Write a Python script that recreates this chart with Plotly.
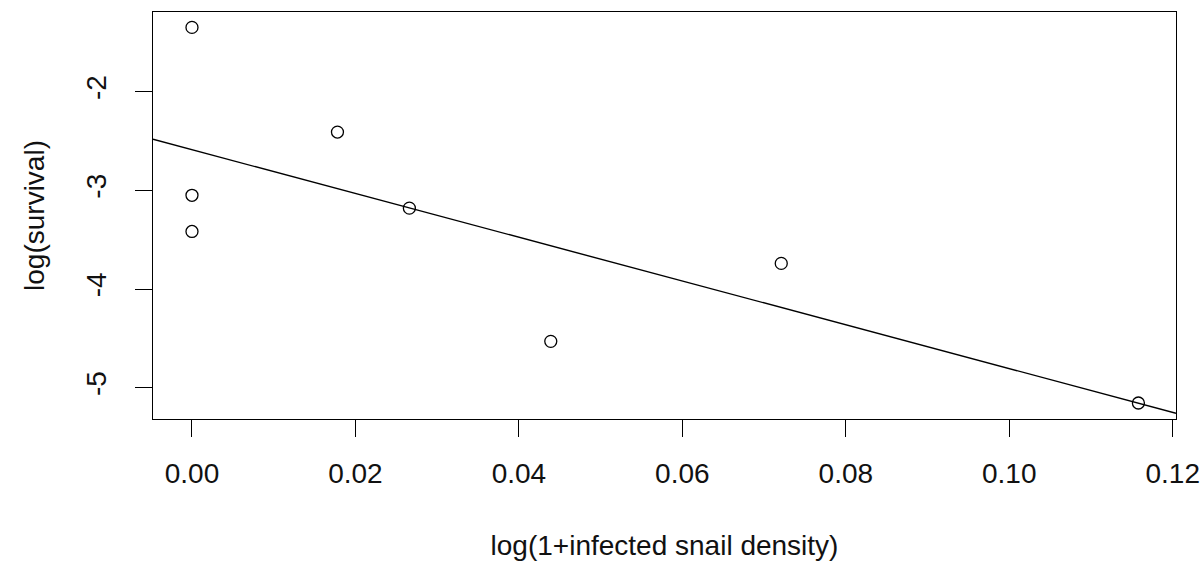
import numpy as np
import plotly.graph_objects as go

# data
infected_density = [0.0, 0.0, 0.0, 0.0178, 0.0266, 0.0439, 0.0721, 0.1158]
log_survival = [-1.348, -3.05, -3.416, -2.409, -3.18, -4.53, -3.74, -5.155]
x_ticks = [0.00, 0.02, 0.04, 0.06, 0.08, 0.10, 0.12]
x_tick_labels = ["0.00", "0.02", "0.04", "0.06", "0.08", "0.10", "0.12"]
y_ticks = [-5, -4, -3, -2]
y_tick_labels = ["-5", "-4", "-3", "-2"]

x_range = [-0.00477, 0.1204]
y_range = [-5.317, -1.192]

slope, intercept = np.polyfit(infected_density, log_survival, 1)
line_x = np.array(x_range)
line_y = intercept + slope * line_x

FONT = "Liberation Sans, Arial, sans-serif"

fig = go.Figure()
fig.add_trace(go.Scatter(
    x=line_x, y=line_y, mode="lines",
    line=dict(color="black", width=1.4), showlegend=False, hoverinfo="skip"))
fig.add_trace(go.Scatter(
    x=infected_density, y=log_survival, mode="markers",
    marker=dict(symbol="circle-open", size=12, color="black", line=dict(width=1.3, color="black")),
    showlegend=False))

axis_common = dict(
    showgrid=False, zeroline=False, showline=True, mirror=True,
    linecolor="black", linewidth=1.3, ticks="outside", ticklen=17,
    tickcolor="black", tickwidth=1.3, automargin=False,
    tickfont=dict(family=FONT, size=28, color="#111"),
)

fig.update_layout(
    width=1203, height=570,
    margin=dict(l=153, r=27, t=12, b=151),
    paper_bgcolor="white", plot_bgcolor="white",
    xaxis=dict(range=x_range, tickvals=x_ticks, ticktext=x_tick_labels,
               ticklabelstandoff=12,
               title=dict(text="log(1+infected snail density)", standoff=47,
                          font=dict(family=FONT, size=28, color="#111")),
               **axis_common),
    yaxis=dict(range=y_range, tickvals=y_ticks, ticktext=y_tick_labels, tickangle=-90,
               ticklabelstandoff=18,
               title=dict(text="log(survival)", standoff=27,
                          font=dict(family=FONT, size=28, color="#111")),
               **axis_common),
)

fig.write_html("out.html")
